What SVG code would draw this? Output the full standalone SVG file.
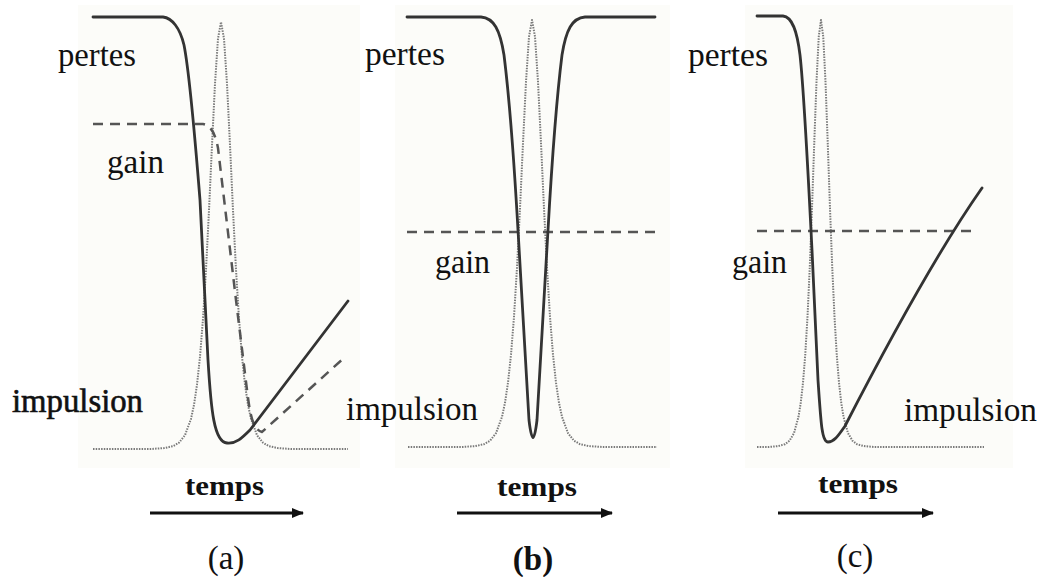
<svg xmlns="http://www.w3.org/2000/svg" width="1040" height="577" viewBox="0 0 1040 577">
<defs>
<style>
.bg{fill:#fcfcf9}
.pertes{fill:none;stroke:#333;stroke-width:2.8;stroke-linejoin:round;stroke-linecap:round}
.pulse{fill:none;stroke:#7a7a7a;stroke-width:2;stroke-dasharray:1.5 1.2;stroke-linejoin:round}
.gain{fill:none;stroke:#555;stroke-width:2.5;stroke-dasharray:10 7}
.lbl{font-family:"Liberation Serif","DejaVu Serif",serif;font-size:33px;fill:#111}
.tm{font-family:"Liberation Serif","DejaVu Serif",serif;font-size:28px;font-weight:bold;fill:#111}
.cap{font-family:"Liberation Serif","DejaVu Serif",serif;font-size:33px;fill:#111;text-anchor:middle}
.axis{stroke:#111;stroke-width:3;fill:none}
</style>
<marker id="ah" viewBox="0 0 12 10" refX="11" refY="5" markerWidth="12" markerHeight="10" markerUnits="userSpaceOnUse" orient="auto">
<path d="M0,0 L12,5 L0,10 Z" fill="#111"/>
</marker>
</defs>
<rect width="1040" height="577" fill="#fff"/>
<rect class="bg" x="78" y="5" width="282" height="463"/>
<rect class="bg" x="395" y="5" width="275" height="463"/>
<rect class="bg" x="745" y="5" width="268" height="463"/>

<g id="panel-a">
<path class="pulse" d="M93,449 H151 l13,-0.9 l9,-1.9 l6,-3.5 l6,-7.5 l6,-16.4 l3,-14 l3,-20.1 l3,-28 l3,-37.9 l3,-49.1 l3,-59.4 l3,-65.1 l3,-61.5 l3,-45 l3,-16.7 l3,16.7 l3,45 l3,61.5 l3,65.1 l3,59.4 l3,49.1 l3,37.9 l3,28 l3,20.1 l3,14 l6,16.4 l6,7.5 l6,3.5 l9,1.9 l13,0.9 H348"/>
<path class="gain" d="M93,124 H203 C210,125 215,132 218,148 L236,300 L247,390 C250,415 253,430 262,432 L345,357"/>
<path class="pertes" d="M93,17 H163 C172,18 180,28 184,45 C190,75 196,150 200,200 L208,360 C211,410 214,442 227,443 C236,444 242,438 250,430 L348,301"/>
<text class="lbl" x="58" y="66" textLength="78" lengthAdjust="spacingAndGlyphs">pertes</text>
<text class="lbl" x="107" y="173" textLength="57" lengthAdjust="spacingAndGlyphs">gain</text>
<text class="lbl" x="12" y="412" stroke="#111" stroke-width="0.6" textLength="131" lengthAdjust="spacingAndGlyphs">impulsion</text>
<text class="tm" x="185" y="495" textLength="79" lengthAdjust="spacingAndGlyphs">temps</text>
<text class="cap" x="226" y="569">(a)</text>
</g>

<g id="panel-b">
<path class="pulse" d="M408,447 H462 l13,-0.9 l9,-1.9 l6,-3.5 l6,-7.5 l6,-16.4 l3,-14 l3,-20.1 l3,-28 l3,-37.9 l3,-49.1 l3,-59.4 l3,-65.1 l3,-61.5 l3,-45 l3,-16.7 l3,16.7 l3,45 l3,61.5 l3,65.1 l3,59.4 l3,49.1 l3,37.9 l3,28 l3,20.1 l3,14 l6,16.4 l6,7.5 l6,3.5 l9,1.9 l13,0.9 H657"/>
<path class="gain" d="M407,232 H655"/>
<path class="pertes" stroke-width="3.2" d="M407,17 H481 C494,18 500,30 504,55 C509,95 514,160 518,230 L529,420 Q533,455 537,420 L548,230 C552,160 557,95 562,55 C566,30 572,18 585,17 H655"/>
<text class="lbl" x="365" y="65" textLength="80" lengthAdjust="spacingAndGlyphs">pertes</text>
<text class="lbl" x="435" y="273" textLength="55" lengthAdjust="spacingAndGlyphs">gain</text>
<text class="lbl" x="346" y="420" textLength="132" lengthAdjust="spacingAndGlyphs">impulsion</text>
<text class="tm" x="497" y="496" textLength="80" lengthAdjust="spacingAndGlyphs">temps</text>
<text class="cap" x="533" y="570" font-weight="bold">(b)</text>
</g>

<g id="panel-c">
<path class="pulse" d="M757,447 H768.5 l9.75,-0.9 l6.75,-1.9 l4.5,-3.5 l4.5,-7.5 l4.5,-16.4 l2.25,-14 l2.25,-20.1 l2.25,-28 l2.25,-37.9 l2.25,-49.1 l2.25,-59.4 l2.25,-65.1 l2.25,-61.5 l2.25,-45 l2.25,-16.7 l2.25,16.7 l2.25,45 l2.25,61.5 l2.25,65.1 l2.25,59.4 l2.25,49.1 l2.25,37.9 l2.25,28 l2.25,20.1 l2.25,14 l4.5,16.4 l4.5,7.5 l4.5,3.5 l6.75,1.9 l9.75,0.9 H984"/>
<path class="gain" d="M757,231 H977"/>
<path class="pertes" d="M757,16 H783 C792,17 797,30 800,55 C804,90 808,170 812,250 L818,380 C821,425 822,442 828,442 C834,442 838,436 845,426 C880,358 935,255 982,188"/>
<text class="lbl" x="688" y="66" textLength="80" lengthAdjust="spacingAndGlyphs">pertes</text>
<text class="lbl" x="732" y="273" textLength="55" lengthAdjust="spacingAndGlyphs">gain</text>
<text class="lbl" x="904" y="421" textLength="133" lengthAdjust="spacingAndGlyphs">impulsion</text>
<text class="tm" x="818" y="493" textLength="80" lengthAdjust="spacingAndGlyphs">temps</text>
<text class="cap" x="855" y="567">(c)</text>
</g>

<g id="connectors">
<line class="axis" x1="150" y1="513" x2="303" y2="513" marker-end="url(#ah)"/>
<line class="axis" x1="457" y1="513" x2="612" y2="513" marker-end="url(#ah)"/>
<line class="axis" x1="778" y1="513" x2="933" y2="513" marker-end="url(#ah)"/>
</g>
</svg>
